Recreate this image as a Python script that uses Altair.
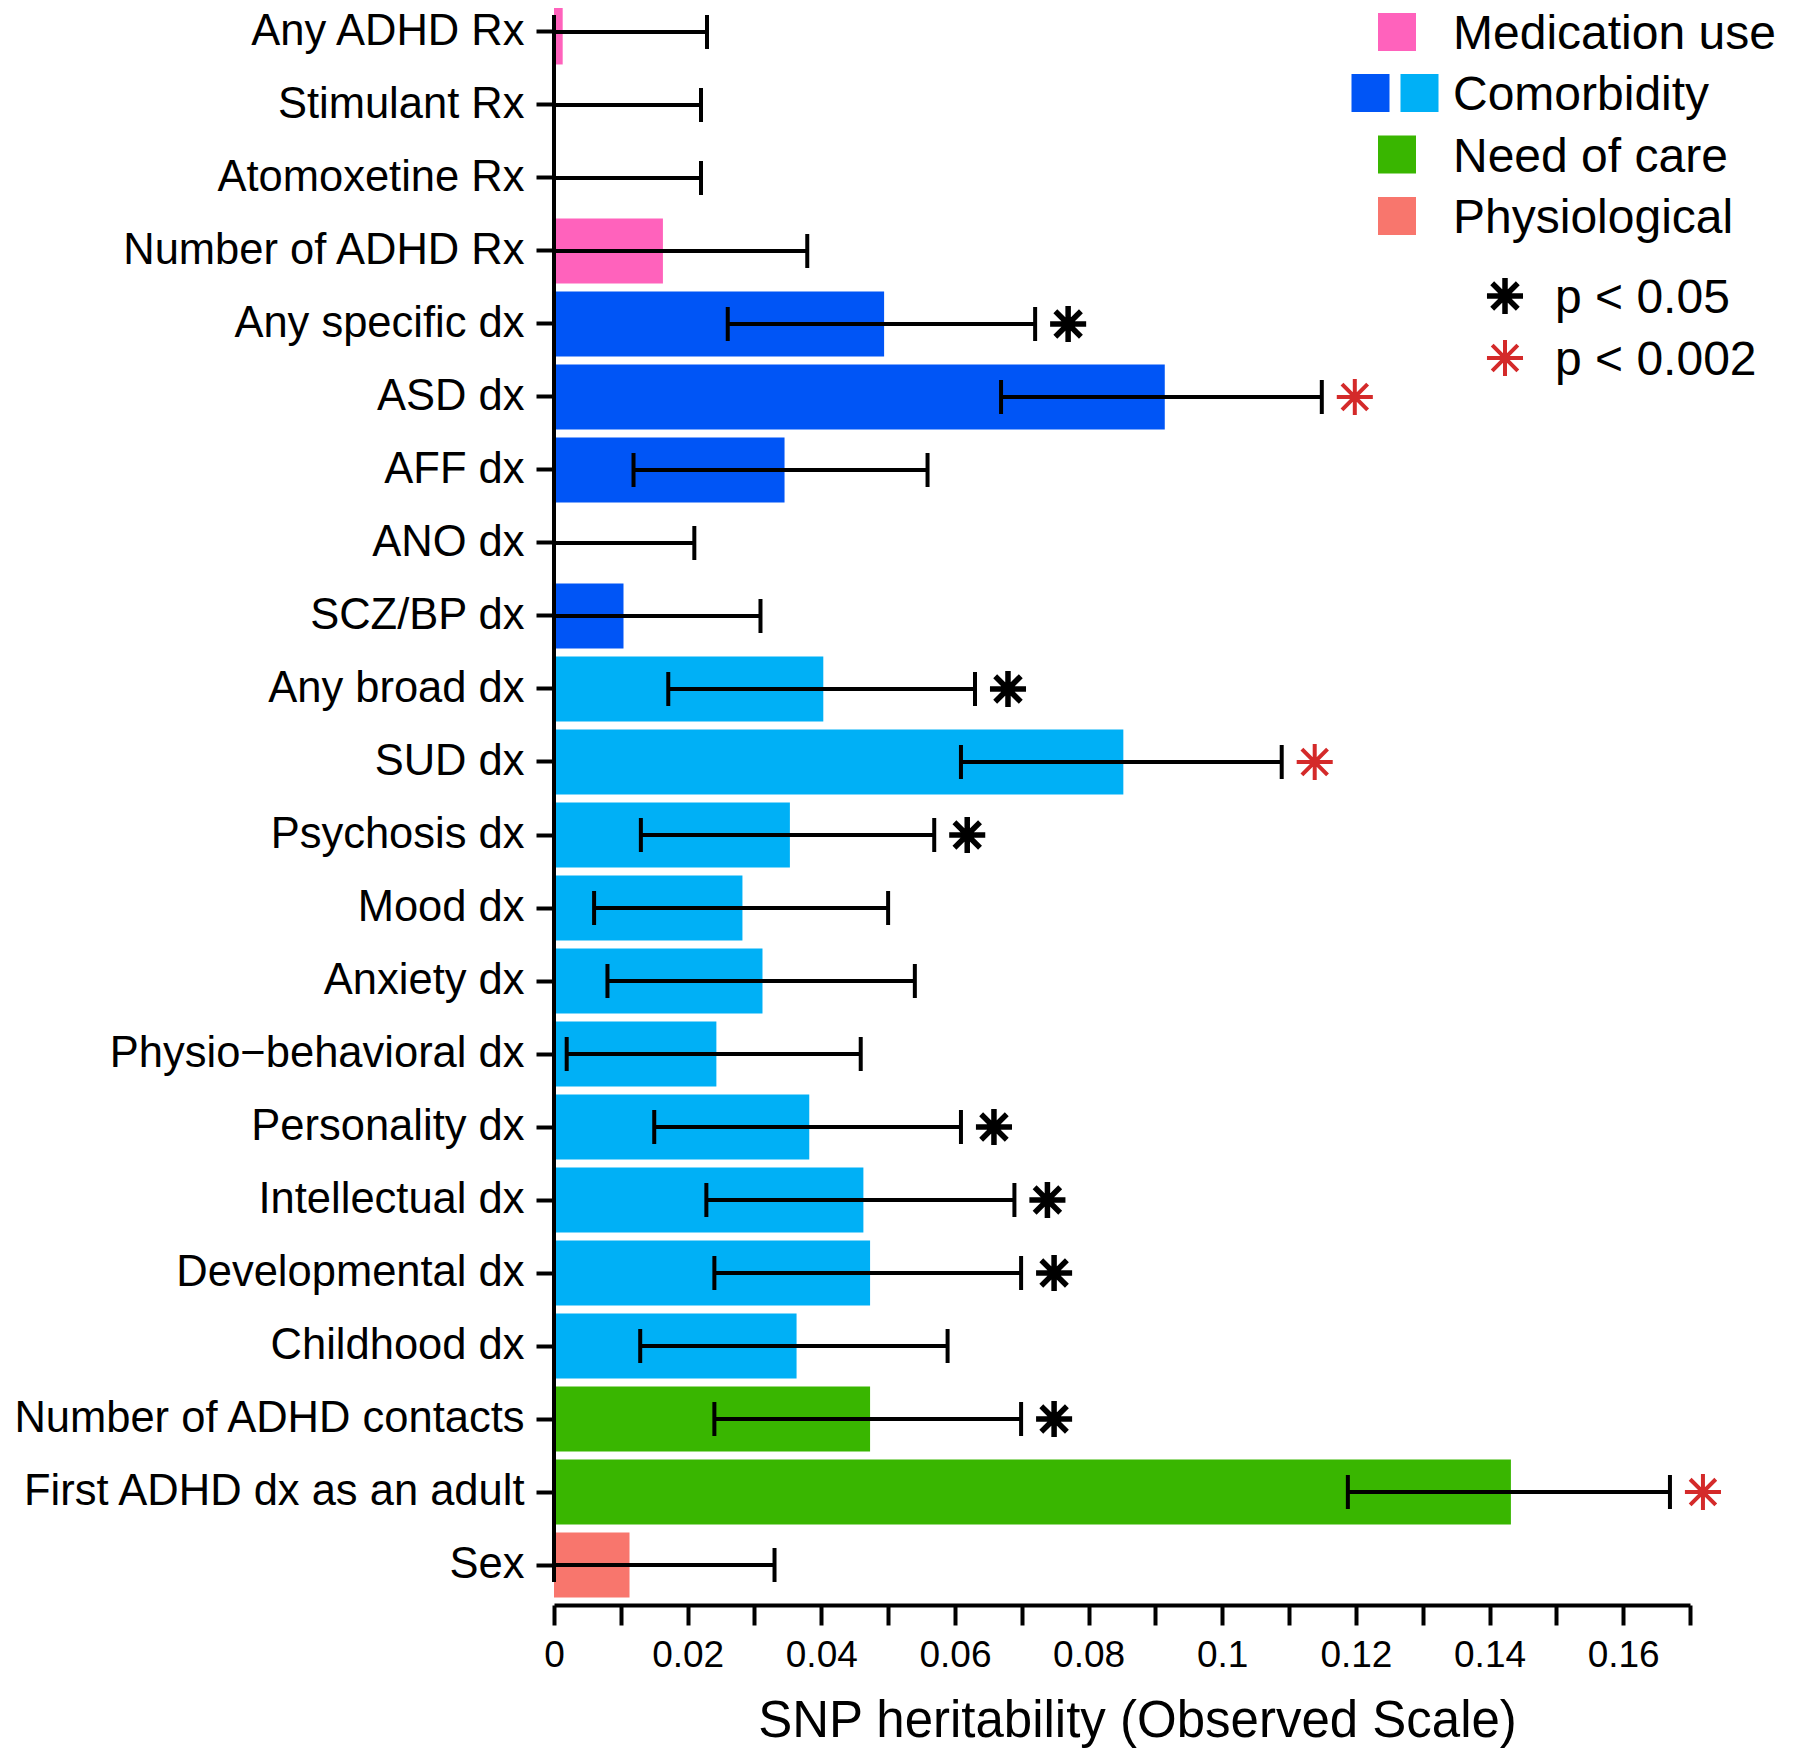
import altair as alt
import pandas as pd

# ---------------- data ----------------
categories = [
    "Any ADHD Rx", "Stimulant Rx", "Atomoxetine Rx", "Number of ADHD Rx",
    "Any specific dx", "ASD dx", "AFF dx", "ANO dx", "SCZ/BP dx",
    "Any broad dx", "SUD dx", "Psychosis dx", "Mood dx", "Anxiety dx",
    "Physio\u2212behavioral dx", "Personality dx", "Intellectual dx",
    "Developmental dx", "Childhood dx",
    "Number of ADHD contacts", "First ADHD dx as an adult", "Sex",
]
groups = (["med"] * 4 + ["spec"] * 5 + ["broad"] * 10 + ["care"] * 2 + ["phys"])
estimates = [0.0013, 0.0, 0.0, 0.0163,
             0.0494, 0.0914, 0.0345, 0.0, 0.0104,
             0.0403, 0.0852, 0.0353, 0.0282, 0.0312, 0.0243,
             0.0382, 0.0463, 0.0473, 0.0363,
             0.0473, 0.1432, 0.0113]
lower = [0.0, 0.0, 0.0, 0.0,
         0.0260, 0.0669, 0.0119, 0.0, 0.0,
         0.0171, 0.0609, 0.0130, 0.0060, 0.0080, 0.0019,
         0.0150, 0.0228, 0.0240, 0.0129,
         0.0240, 0.1188, 0.0]
upper = [0.0229, 0.0220, 0.0220, 0.0379,
         0.0720, 0.1149, 0.0559, 0.0210, 0.0309,
         0.0630, 0.1089, 0.0569, 0.0500, 0.0540, 0.0459,
         0.0609, 0.0689, 0.0699, 0.0589,
         0.0699, 0.1670, 0.0330]
significance = ["", "", "", "",
                "p05", "p002", "", "", "",
                "p05", "p002", "p05", "", "", "",
                "p05", "p05", "p05", "",
                "p05", "p002", ""]
x_ticks = [0.0, 0.01, 0.02, 0.03, 0.04, 0.05, 0.06, 0.07, 0.08, 0.09,
           0.10, 0.11, 0.12, 0.13, 0.14, 0.15, 0.16, 0.17]

group_keys = ["med", "spec", "broad", "care", "phys"]
group_colors = ["#FF62BC", "#0055F6", "#00B0F6", "#39B600", "#F8766D"]
legend_labels = ["Medication use", "Comorbidity", "Need of care", "Physiological"]
sig_labels = ["p < 0.05", "p < 0.002"]
sig_colors = ["#000000", "#D42A2A"]

FONT = "Liberation Sans"
STAR = "M0,-1L0,1M-1,0L1,0M-0.71,-0.71L0.71,0.71M-0.71,0.71L0.71,-0.71"

df = pd.DataFrame({
    "category": categories, "group": groups, "est": estimates,
    "lo": lower, "hi": upper, "sig": significance,
})

W, H = 1136, 1597
x_scale = alt.Scale(domain=[0, 0.17], nice=False, zero=True)
y_scale = alt.Scale(domain=categories, range=[-8.5, 1589.5],
                    paddingInner=0.11, paddingOuter=0)

x_axis = alt.Axis(
    values=x_ticks,
    labelExpr="round(datum.value*100) % 2 == 0 ? format(datum.value, '~g') : ''",
    domain=True, domainWidth=4, domainColor="black",
    ticks=True, tickSize=20, tickWidth=4, tickColor="black",
    labelFont=FONT, labelFontSize=37, labelColor="black", labelPadding=12,
    labelOverlap=False, labelFlush=False, grid=False,
    title="SNP heritability (Observed Scale)", titleFont=FONT, titleFontSize=51,
    titleFontWeight="normal", titleColor="black", titleBaseline="alphabetic",
    titleY=131, titleX=583,
)
y_axis = alt.Axis(
    domain=False, ticks=True, tickSize=18, tickWidth=4, tickColor="black",
    labelFont=FONT, labelFontSize=43.5, labelColor="black", labelPadding=12,
    labelLimit=0, grid=False, title=None,
)

base = alt.Chart(df)
Y = alt.Y("category:N", scale=y_scale, axis=y_axis, sort=categories, title=None)
X = lambda f: alt.X(f, scale=x_scale, axis=x_axis, stack=None)

bars = base.mark_bar(clip=True).encode(
    x=X("est:Q"),
    y=Y,
    color=alt.Color("group:N", scale=alt.Scale(domain=group_keys, range=group_colors),
                    legend=None),
)

yline = base.mark_rule(color="black", strokeWidth=4).encode(
    x=alt.datum(0),
    y=alt.datum(categories[0]),
    y2=alt.datum(categories[-1]),
)

err = base.mark_rule(color="black", strokeWidth=4).encode(
    x=X("lo:Q"), x2="hi:Q", y=Y,
)
cap_lo = base.mark_tick(color="black", thickness=4, size=34, orient="vertical", opacity=1).encode(
    x=X("lo:Q"), y=Y,
)
cap_hi = base.mark_tick(color="black", thickness=4, size=34, orient="vertical", opacity=1).encode(
    x=X("hi:Q"), y=Y,
)
stars_b = base.transform_filter("datum.sig == 'p05'").mark_point(
    shape=STAR, filled=False, size=1300, xOffset=33, stroke=sig_colors[0],
    strokeWidth=5.5, opacity=1,
).encode(x=X("hi:Q"), y=Y)
stars_r = base.transform_filter("datum.sig == 'p002'").mark_point(
    shape=STAR, filled=False, size=1300, xOffset=33, stroke=sig_colors[1],
    strokeWidth=4, opacity=1,
).encode(x=X("hi:Q"), y=Y)

# ---------------- custom legend (top right) ----------------
one = alt.Chart(pd.DataFrame({"a": [0]}))
leg_layers = []
sq_x, txt_x = 843, 899
rows_y = [24, 85, 146.5, 208]
sq_specs = [(sq_x, rows_y[0], group_colors[0]),
            (sq_x - 26.5, rows_y[1], group_colors[1]),
            (sq_x + 22.5, rows_y[1], group_colors[2]),
            (sq_x, rows_y[2], group_colors[3]),
            (sq_x, rows_y[3], group_colors[4])]
for px, py, c in sq_specs:
    leg_layers.append(one.mark_square(size=1444, color=c, opacity=1).encode(
        x=alt.value(px), y=alt.value(py)))
for lbl, py in zip(legend_labels, rows_y):
    leg_layers.append(one.mark_text(text=lbl, font=FONT, fontSize=48, align="left",
                                    baseline="middle", color="black").encode(
        x=alt.value(txt_x), y=alt.value(py + 3)))
star_rows = [288, 350]
for lbl, py, c, sw in zip(sig_labels, star_rows, sig_colors, [5.5, 4]):
    leg_layers.append(one.mark_point(shape=STAR, filled=False, size=1300, stroke=c,
                                     strokeWidth=sw, opacity=1).encode(
        x=alt.value(951), y=alt.value(py)))
    leg_layers.append(one.mark_text(text=lbl, font=FONT, fontSize=48, align="left",
                                    baseline="middle", color="black").encode(
        x=alt.value(1001), y=alt.value(py + 3)))

chart = alt.layer(bars, yline, err, cap_lo, cap_hi, stars_b, stars_r, *leg_layers).properties(
    width=W, height=H,
    background="white",
    padding={"left": 546, "top": 0, "right": 102, "bottom": 143},
    autosize=alt.AutoSizeParams(type="none"),
).configure_view(stroke=None)

chart.save("out.html", embed_options={"renderer": "svg", "actions": False})
